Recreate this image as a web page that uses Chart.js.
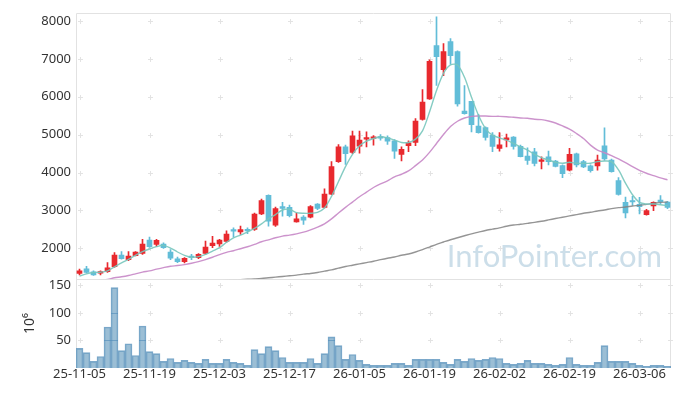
<!DOCTYPE html>
<html>
<head>
<meta charset="utf-8">
<script src="https://cdn.jsdelivr.net/npm/chart.js@4/dist/chart.umd.min.js"></script>
<style>
html,body{margin:0;padding:0;background:#fff;}
#wrap{width:680px;height:396px;position:relative;}
</style>
</head>
<body>
<div id="wrap"><canvas id="c" width="680" height="396"></canvas></div>
<script>
const dates = [
 '25-11-05','25-11-06','25-11-07','25-11-10','25-11-11','25-11-12','25-11-13','25-11-14','25-11-17','25-11-18',
 '25-11-19','25-11-20','25-11-21','25-11-24','25-11-25','25-11-26','25-11-27','25-11-28','25-12-01','25-12-02',
 '25-12-03','25-12-04','25-12-05','25-12-08','25-12-09','25-12-10','25-12-11','25-12-12','25-12-15','25-12-16',
 '25-12-17','25-12-18','25-12-19','25-12-22','25-12-23','25-12-24','25-12-26','25-12-29','25-12-30','26-01-02',
 '26-01-05','26-01-06','26-01-07','26-01-08','26-01-09','26-01-12','26-01-13','26-01-14','26-01-15','26-01-16',
 '26-01-19','26-01-20','26-01-21','26-01-22','26-01-23','26-01-26','26-01-27','26-01-28','26-01-29','26-01-30',
 '26-02-02','26-02-03','26-02-04','26-02-05','26-02-06','26-02-09','26-02-10','26-02-11','26-02-12','26-02-13',
 '26-02-19','26-02-20','26-02-23','26-02-24','26-02-25','26-02-26','26-02-27','26-03-03','26-03-04','26-03-05',
 '26-03-06','26-03-09','26-03-10','26-03-11','26-03-12'
];
const xTickLabels = ['25-11-05','25-11-19','25-12-03','25-12-17','26-01-05','26-01-19','26-02-02','26-02-19','26-03-06'];
const priceTicks = [2000,3000,4000,5000,6000,7000,8000];
const volumeTicks = [50,100,150];

const open = [
 1335,1458,1380,1344,1387,1519,1824,1702,1807,1868,
 2217,2104,2113,1903,1720,1650,1772,1755,1868,2069,
 2113,2183,2479,2435,2479,2497,2906,3396,2611,3100,
 3082,2697,2828,2820,3169,3082,3432,4287,4680,4532,
 4699,4882,4899,4934,4925,4838,4479,4707,4794,5405,
 5946,7353,6716,7457,7196,5623,5877,5230,5187,4987,
 4637,4864,4934,4690,4436,4549,4296,4418,4305,4183,
 4060,4497,4287,4175,4175,4707,4332,3790,3213,3258,
 3161,2891,3117,3274,3222
];
const high = [
 1450,1528,1405,1405,1624,1886,1912,1912,1912,2235,
 2296,2235,2148,1964,1772,1755,1842,1859,2191,2314,
 2235,2461,2540,2584,2540,2932,3300,3415,3091,3213,
 3143,2932,2863,3127,3178,3572,4287,4741,4724,5092,
 5092,5073,4977,5003,4969,4873,4680,4838,5422,6192,
 6978,8112,7405,7536,7213,6297,5880,5537,5204,5056,
 5056,5013,4951,4725,4654,4637,4418,4567,4322,4201,
 4637,4514,4322,4201,4463,5178,4358,3868,3353,3370,
 3344,3030,3230,3389,3240
];
const low = [
 1300,1345,1282,1300,1361,1493,1711,1677,1798,1842,
 2025,2043,1999,1702,1624,1615,1702,1728,1842,2017,
 2052,2157,2296,2367,2384,2471,2889,2584,2575,2846,
 2828,2689,2629,2802,3022,3065,3415,4269,4217,4497,
 4515,4680,4724,4855,4742,4374,4305,4550,4707,5380,
 5929,6297,6559,6863,5754,5540,5073,5039,4856,4549,
 4567,4680,4620,4410,4217,4175,4096,4201,4148,3868,
 4044,4148,4130,4008,4060,4322,4008,3405,2803,3135,
 2907,2873,2996,3169,3048
];
const close = [
 1405,1361,1300,1387,1484,1824,1728,1798,1903,2113,
 2043,2209,2017,1737,1650,1737,1755,1842,2034,2139,
 2217,2375,2453,2497,2462,2906,3258,2715,3048,3056,
 2865,2776,2741,3100,3056,3432,4157,4680,4497,4969,
 4855,4925,4943,4908,4829,4567,4610,4785,5361,5859,
 6933,7057,7196,7083,5815,5553,5265,5056,4925,4689,
 4733,4916,4689,4418,4322,4244,4313,4287,4165,3973,
 4479,4201,4148,4052,4332,4358,4025,3423,2934,3222,
 3100,2996,3213,3230,3082
];
const ma5 = [
 1266,1327,1361,1370,1405,1510,1615,1711,1816,1911,
 1982,2043,2079,2008,1903,1816,1764,1781,1842,1929,
 2017,2160,2279,2349,2436,2524,2645,2786,2891,3012,
 3030,2943,2925,2925,2951,3064,3370,3763,4156,4479,
 4707,4830,4900,4945,4916,4855,4794,4794,4882,5099,
 5597,6166,6619,6840,6840,6514,5990,5511,5162,4987,
 4916,4855,4768,4680,4593,4480,4392,4332,4271,4244,
 4271,4244,4244,4244,4287,4305,4287,4069,3719,3414,
 3213,3169,3169,3152,3126
];
const ma20 = [
 1080,1105,1130,1155,1178,1222,1248,1282,1327,1371,
 1405,1450,1492,1528,1545,1571,1607,1650,1702,1764,
 1833,1895,1937,1990,2042,2105,2173,2225,2278,2322,
 2349,2383,2427,2488,2558,2645,2776,2933,3082,3221,
 3362,3483,3606,3700,3782,3886,3955,4043,4183,4332,
 4532,4768,5003,5213,5354,5440,5484,5492,5492,5484,
 5484,5475,5458,5440,5432,5406,5397,5362,5309,5230,
 5144,5030,4899,4724,4594,4523,4445,4358,4261,4157,
 4060,3981,3921,3860,3808
];
const ma120 = [
 880,893,906,919,932,945,958,971,984,997,
 1010,1023,1036,1049,1062,1075,1088,1101,1114,1127,
 1140,1153,1163,1173,1182,1192,1204,1222,1240,1257,
 1275,1292,1319,1336,1361,1397,1432,1476,1519,1554,
 1589,1624,1659,1700,1738,1772,1816,1851,1903,1965,
 2034,2105,2166,2226,2278,2331,2383,2427,2471,2506,
 2541,2584,2615,2635,2660,2685,2715,2750,2786,2820,
 2855,2891,2925,2951,2986,3012,3048,3074,3090,3117,
 3135,3161,3187,3213,3222
];
const volume = [
 35.7,28.0,11.9,20.8,74.4,145.8,31.5,44.0,22.6,76.2,
 29.8,26.2,11.9,17.2,10.1,13.7,10.1,8.3,15.5,8.3,
 8.3,15.5,10.1,8.3,4.8,33.3,26.2,38.7,31.5,19.0,
 10.1,10.1,10.1,17.2,8.3,26.2,56.5,40.5,15.5,24.4,
 13.7,6.5,4.8,4.8,4.8,8.3,8.3,4.8,15.5,15.5,
 15.5,15.5,10.1,6.5,15.5,11.9,17.2,13.7,15.5,19.0,
 17.2,8.3,6.5,8.3,13.7,8.3,8.3,6.5,4.8,6.5,
 19.0,6.5,4.8,4.8,10.1,40.5,11.9,11.9,11.9,8.3,
 4.8,3.0,4.8,4.8,3.0
];

const UP = '#e8292e', DOWN = '#62bdd8';
const candleColors = open.map((o, i) => close[i] >= o ? UP : DOWN);
const FONT = '"Noto Sans", "DejaVu Sans", sans-serif';

const panelPlugin = {
  id: 'panels',
  beforeDatasetsDraw(chart) {
    const {ctx, chartArea: ca, scales} = chart;
    const x = scales.x, y = scales.y, yv = scales.yv;
    const xs = x.ticks.map((t, i) => Math.round(x.getPixelForTick(i)) + 0.5);
    xs.push(Math.round(ca.right) - 0.5);
    ctx.save();
    // watermark
    ctx.font = '31px Lato, "Open Sans", sans-serif';
    ctx.fillStyle = 'rgba(172,201,219,0.62)';
    ctx.textAlign = 'right';
    ctx.textBaseline = 'alphabetic';
    ctx.fillText('InfoPointer.com', ca.right - 9, y.bottom - 12);
    // crosses
    ctx.strokeStyle = '#e3e3e3';
    ctx.lineWidth = 1;
    const rows = [];
    y.ticks.forEach((t, i) => rows.push(Math.round(y.getPixelForTick(i)) + 0.5));
    yv.ticks.forEach((t, i) => rows.push(Math.round(yv.getPixelForTick(i)) + 0.5));
    ctx.beginPath();
    rows.forEach(py => xs.forEach(px => {
      ctx.moveTo(px - 2.5, py); ctx.lineTo(px + 2.5, py);
      ctx.moveTo(px, py - 2.5); ctx.lineTo(px, py + 2.5);
    }));
    ctx.stroke();
    // borders
    ctx.strokeStyle = '#e2e2e2';
    const L = Math.round(ca.left) + 0.5, R = Math.round(ca.right) - 0.5;
    const T = Math.round(y.top) + 0.5, M = Math.round(y.bottom) + 0.5, B = Math.round(yv.bottom);
    ctx.beginPath();
    ctx.moveTo(L, T); ctx.lineTo(R, T);
    ctx.moveTo(L, M); ctx.lineTo(R, M);
    ctx.moveTo(L, T); ctx.lineTo(L, B);
    ctx.moveTo(R, T); ctx.lineTo(R, B);
    ctx.stroke();
    ctx.restore();
  },
  beforeDatasetDraw(chart, args) {
    const {ctx, chartArea: ca} = chart;
    const ys = args.meta.yScale;
    ctx.save();
    ctx.beginPath();
    ctx.rect(ca.left, ys.top, ca.right - ca.left, ys.bottom - ys.top);
    ctx.clip();
  },
  afterDatasetDraw(chart, args) {
    const {ctx} = chart;
    if (args.meta.yScale && args.meta.yScale.id === 'yv') {
      const yv = args.meta.yScale;
      ctx.strokeStyle = 'rgba(80,140,185,0.6)';
      ctx.lineWidth = 1;
      ctx.beginPath();
      args.meta.data.forEach(el => {
        yv.ticks.forEach((t, i) => {
          const py = Math.round(yv.getPixelForTick(i)) + 0.5;
          if (py > el.y) {
            ctx.moveTo(el.x - el.width / 2, py);
            ctx.lineTo(el.x + el.width / 2, py);
          }
        });
      });
      ctx.stroke();
    }
    ctx.restore();
  }
};

const plainNum = v => String(v);

new Chart(document.getElementById('c'), {
  data: {
    labels: dates,
    datasets: [
      { type: 'line', label: 'MA5', data: ma5, yAxisID: 'y', borderColor: 'rgba(120,198,188,0.9)', borderWidth: 1.4, pointRadius: 0, tension: 0.3, order: 1 },
      { type: 'line', label: 'MA20', data: ma20, yAxisID: 'y', borderColor: 'rgba(198,135,198,0.9)', borderWidth: 1.4, pointRadius: 0, tension: 0.3, order: 2 },
      { type: 'line', label: 'MA120', data: ma120, yAxisID: 'y', borderColor: 'rgba(130,130,130,0.85)', borderWidth: 1.4, pointRadius: 0, tension: 0.3, order: 3 },
      { type: 'bar', label: 'body', data: open.map((o, i) => [o, close[i]]), yAxisID: 'y', backgroundColor: candleColors, barThickness: 5, minBarLength: 1.5, grouped: false, order: 4 },
      { type: 'bar', label: 'wick', data: low.map((l, i) => [l, high[i]]), yAxisID: 'y', backgroundColor: candleColors, barThickness: 1, grouped: false, order: 5 },
      { type: 'bar', label: 'volume', data: volume, yAxisID: 'yv', backgroundColor: 'rgba(112,162,195,0.7)', borderColor: 'rgba(80,140,185,0.75)', borderWidth: {top: 1, left: 1, right: 1, bottom: 0}, borderSkipped: false, barPercentage: 1, categoryPercentage: 1, grouped: false, order: 6 }
    ]
  },
  options: {
    responsive: false,
    animation: false,
    devicePixelRatio: 1,
    layout: { padding: { top: 10, right: 9, left: 0, bottom: 0 } },
    plugins: { legend: { display: false }, tooltip: { enabled: false } },
    scales: {
      x: {
        type: 'category',
        offset: true,
        grid: { display: false, drawTicks: false },
        border: { display: false },
        afterBuildTicks: s => { s.ticks = s.ticks.filter(t => xTickLabels.includes(dates[t.value])); },
        afterFit: s => { s.height = 28; },
        ticks: { autoSkip: false, maxRotation: 0, padding: -2, color: '#333', font: { family: FONT, size: 13 } }
      },
      yv: {
        type: 'linear', position: 'left', stack: 'p', stackWeight: 1,
        min: 0, max: 161,
        grid: { display: false, drawTicks: false },
        border: { display: false },
        afterBuildTicks: s => { s.ticks = volumeTicks.map(v => ({ value: v })); },
        afterFit: s => { s.width = 76; },
        title: { display: true, text: '10⁶', color: '#333', font: { family: FONT, size: 14 }, padding: { top: 22, bottom: 0 } },
        ticks: { padding: 5, color: '#333', font: { family: FONT, size: 13 }, callback: plainNum }
      },
      y: {
        type: 'linear', position: 'left', stack: 'p', stackWeight: 3,
        min: 1185, max: 8217,
        grid: { display: false, drawTicks: false },
        border: { display: false },
        afterBuildTicks: s => { s.ticks = priceTicks.map(v => ({ value: v })); },
        afterFit: s => { s.width = 76; },
        ticks: { padding: 5, color: '#333', font: { family: FONT, size: 13 }, callback: plainNum }
      }
    }
  },
  plugins: [panelPlugin]
});
</script>
</body>
</html>
